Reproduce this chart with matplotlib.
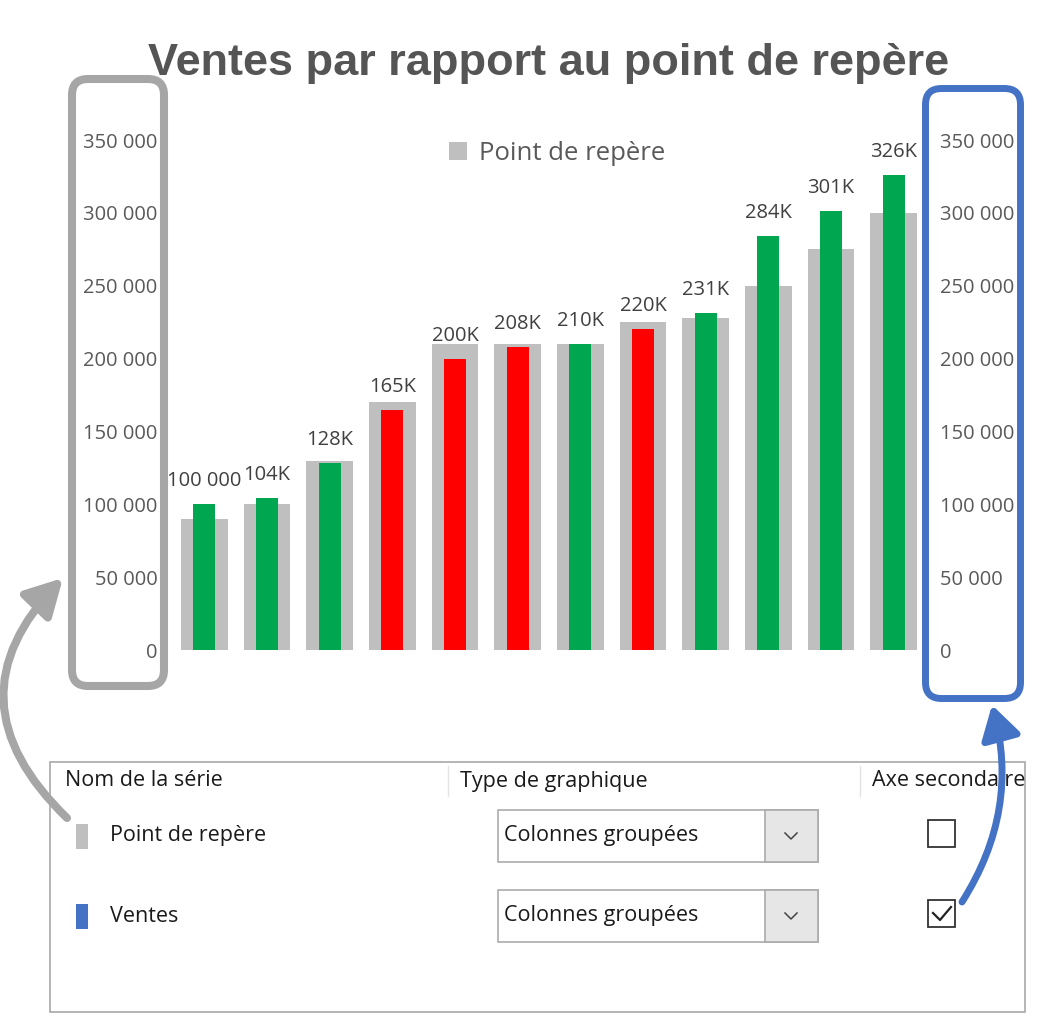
import numpy as np
import matplotlib.pyplot as plt
from matplotlib.patches import FancyBboxPatch, FancyArrowPatch, Rectangle
from matplotlib.ticker import FuncFormatter

# data
categories = list(range(1, 13))
benchmark = [90000, 100000, 130000, 170000, 210000, 210000,
             210000, 225000, 228000, 250000, 275000, 300000]
sales = [100000, 104000, 128000, 165000, 200000, 208000,
         210000, 220000, 231000, 284000, 301000, 326000]
on_target = [True, True, True, False, False, False,
             True, False, True, True, True, True]
sales_labels = ["100 000", "104K", "128K", "165K", "200K", "208K",
                "210K", "220K", "231K", "284K", "301K", "326K"]
yticks = [0, 50000, 100000, 150000, 200000, 250000, 300000, 350000]

GRAY = "#BFBFBF"
GREEN = "#00A650"
RED = "#FF0000"
BLUE = "#4472C4"
TXT = "#595959"
UI = "Open Sans"

W, H = 1041, 1024
fig = plt.figure(figsize=(W / 100, H / 100), dpi=100)


def fx(px):
    return px / W


def fy(py):
    return 1 - py / H


# chart area
left, right, top, bottom = 173, 925, 140, 650
ax = fig.add_axes([fx(left), fy(bottom), (right - left) / W, (bottom - top) / H])
ax2 = ax.twinx()

x = np.arange(len(categories))
bench_bars = ax.bar(x, benchmark, width=0.74, color=GRAY, label="Point de repère")
colors = [GREEN if ok else RED for ok in on_target]
ax2.bar(x, sales, width=0.35, color=colors, label="Ventes")

for xi, s, lab in zip(x, sales, sales_labels):
    ax2.annotate(lab, (xi, s), xytext=(0, 13), textcoords="offset points",
                 ha="center", va="baseline", fontsize=14.5, color="#404040",
                 family=UI)

fmt = FuncFormatter(lambda v, p: f"{int(v):,}".replace(",", " "))
for a in (ax, ax2):
    a.set_ylim(0, 350000)
    a.set_xlim(-0.5, len(categories) - 0.5)
    a.set_yticks(yticks)
    a.yaxis.set_major_formatter(fmt)
    a.tick_params(length=0, labelsize=14.5, labelcolor=TXT)
    for sp in a.spines.values():
        sp.set_visible(False)
    for t in a.get_yticklabels():
        t.set_family(UI)
ax.tick_params(axis="y", pad=11)
ax2.tick_params(axis="y", pad=11)
ax.set_xticks([])

leg = ax.legend(handles=[bench_bars], loc="center", bbox_to_anchor=(fx(557), fy(153)),
                bbox_transform=fig.transFigure, frameon=False, handlelength=0.7,
                handleheight=0.7, handletextpad=0.45,
                prop={"family": UI, "size": 18.5})
for t in leg.get_texts():
    t.set_color(TXT)

fig.text(fx(549), fy(63), "Ventes par rapport au point de repère", ha="center",
         va="center", fontsize=32.5, fontweight="bold", color="#555555",
         family="Liberation Sans")

# overlay in pixel coordinates
ov = fig.add_axes([0, 0, 1, 1], facecolor="none")
ov.set_xlim(0, W)
ov.set_ylim(H, 0)
ov.axis("off")

# highlight boxes round the two axes
ov.add_patch(FancyBboxPatch((72, 79), 92, 607, boxstyle="round,pad=0,rounding_size=16",
                            fill=False, ec="#A6A6A6", lw=5.8))
ov.add_patch(FancyBboxPatch((925.5, 88.5), 95, 610, boxstyle="round,pad=0,rounding_size=16",
                            fill=False, ec=BLUE, lw=5.0))

# series dialog
ov.add_patch(Rectangle((50, 762), 975, 250, fc="white", ec="#A8A8A8", lw=1.2))
ov.text(65, 781, "Nom de la série", fontsize=15.5, va="center", color="#1A1A1A", family=UI)
ov.text(460, 781, "Type de graphique", fontsize=15.5, va="center", color="#1A1A1A", family=UI)
ov.text(872, 781, "Axe secondaire", fontsize=15.5, va="center", color="#1A1A1A", family=UI)
for sx in (448, 860):
    ov.plot([sx, sx], [766, 796], color="#E3E3E3", lw=1)

rows = [("Point de repère", GRAY, 836, False), ("Ventes", BLUE, 916, True)]
for name, col, yc, checked in rows:
    ov.add_patch(Rectangle((76, yc - 12), 12, 25, fc=col, ec="none"))
    ov.text(110, yc, name, fontsize=15.5, va="center", color="#1A1A1A", family=UI)
    ov.add_patch(Rectangle((498, yc - 26), 320, 52, fc="white", ec="#ABABAB", lw=1.2))
    ov.add_patch(Rectangle((765, yc - 26), 53, 52, fc="#E6E6E6", ec="#ABABAB", lw=1.2))
    ov.text(504, yc, "Colonnes groupées", fontsize=15.5, va="center", color="#1A1A1A", family=UI)
    ov.plot([785, 791, 797], [yc - 3, yc + 3, yc - 3], color="#444444", lw=1.1)
    ov.add_patch(Rectangle((928, yc - 16), 27, 27, fc="white", ec="#333333", lw=1.3))
    if checked:
        ov.plot([933, 940, 951], [yc - 3, yc + 4, yc - 9], color="#222222", lw=1.6)

# arrows from the dialog to the axes
ov.add_patch(FancyArrowPatch((67, 818), (63, 578), connectionstyle="arc3,rad=-0.5",
                             arrowstyle="-|>,head_length=1.1,head_width=0.6",
                             mutation_scale=20, color="#A6A6A6", lw=5.8,
                             shrinkA=0, shrinkB=0, zorder=5))
ov.add_patch(FancyArrowPatch((962, 902), (992, 705), connectionstyle="arc3,rad=0.22",
                             arrowstyle="-|>,head_length=1.0,head_width=0.6",
                             mutation_scale=20, color=BLUE, lw=5.0,
                             shrinkA=0, shrinkB=0, zorder=5))

fig.savefig("out.png", dpi=100)
